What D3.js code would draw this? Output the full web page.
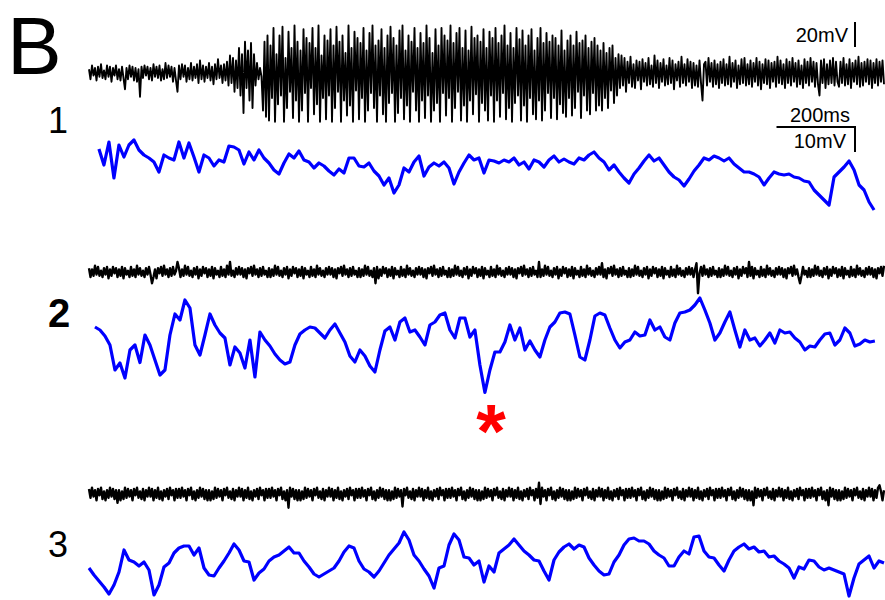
<!DOCTYPE html>
<html>
<head>
<meta charset="utf-8">
<script src="https://cdn.jsdelivr.net/npm/d3@7"></script>
<style>
  body { margin: 0; background: #fff; }
  svg { display: block; font-family: 'Liberation Sans', Arial, sans-serif; }
</style>
</head>
<body>
<div id="chart"></div>
<script>
// sweep length and scale bars
const durationMs = 2000;
const timeBarMs = 200;
const ecogBarMv = 20;
const vmBarMv = 10;
const panelLabels = ['1', '2', '3'];

// black traces (mV), 531 samples per sweep, 20 per line
const ecog1 = [
  3,-5,6,-2,4,-6,5,-3,7,-4,2,-5,6,-3,5,-7,4,-2,6,-5,
  3,-6,5,-4,-13,4,-5,6,-3,5,-6,4,-7,3,-19,5,-4,6,-2,5,
  -5,4,-6,7,-3,5,-4,6,-6,3,-5,8,-4,6,-3,5,-7,4,-6,-15,
  6,-5,7,-3,6,-7,4,-5,8,-6,5,-4,7,-8,10,-5,6,-7,5,-4,
  8,-6,5,-9,7,-5,11,-4,6,-8,7,-6,9,-10,14,-8,12,-15,10,-12,
  20,-18,15,-32,25,-12,18,-22,24,-28,15,-10,8,-5,4,-3,-30,25,-35,30,
  -38,22,-20,36,-39,15,-25,30,-18,37,-39,12,-28,33,-15,20,-36,38,-22,25,
  -39,18,-30,35,-16,28,-39,24,-12,36,-33,20,-25,38,-39,14,-20,30,-37,26,
  -18,35,-39,22,-28,37,-15,25,-39,30,-22,16,-34,38,-26,20,-39,33,-14,28,
  -37,24,-20,36,-39,18,-30,32,-16,38,-28,22,-39,26,-18,35,-33,20,-39,30,
  -24,37,-16,28,-39,22,-32,34,-20,38,-37,18,-26,30,-39,25,-15,36,-30,20,
  -39,32,-22,24,-36,38,-18,28,-39,16,-30,35,-24,22,-39,36,-16,30,-34,26,
  -20,38,-39,24,-28,32,-15,36,-38,20,-26,34,-39,18,-22,37,-33,28,-17,30,
  -39,25,-24,35,-30,20,-38,33,-18,28,-39,36,-22,24,-35,30,-16,38,-37,22,
  -28,32,-39,20,-24,36,-18,27,-38,34,-26,22,-39,30,-20,35,-33,18,-37,28,
  -22,36,-38,24,-30,32,-16,25,-36,30,-20,28,-37,22,-25,34,-32,18,-35,26,
  -20,30,-34,22,-28,33,-15,24,-36,26,-18,30,-30,20,-33,25,-16,28,-30,22,
  -26,18,-30,24,-20,16,-28,20,-14,22,-24,12,-18,15,-12,14,-10,12,-15,9,
  -8,13,-11,7,-12,10,-6,9,-13,11,-7,8,-10,12,-9,6,-11,14,-8,10,
  -12,8,-7,11,-10,6,-9,12,-8,10,-13,7,-6,9,-11,13,-8,7,-10,11,
  -7,9,-12,8,-10,6,-11,10,-8,-22,7,9,-10,12,-7,8,-11,10,-9,7,
  -12,9,-8,11,-10,7,-9,13,-11,8,-7,10,-12,6,-9,11,-8,12,-10,7,
  -9,10,-11,8,-7,12,-10,9,-13,7,-8,11,-9,10,-12,8,-7,9,-11,13,
  -8,10,-9,7,-12,11,-8,9,-10,12,-7,8,-11,10,-9,6,-12,11,-8,9,
  -10,12,-7,9,-11,8,-9,-18,10,-8,11,-12,7,-9,10,-8,12,-10,9,-7,
  -11,9,-8,12,-10,7,-9,11,-12,8,-7,10,-9,13,-11,8,-10,9,-7,11,
  -9,10,-12,8,-8,11,-10,9,-7,10,-9
];

const ecog2 = [
  3,-4,2,-3,5,-2,4,-3,1,-4,3,-2,4,-5,2,-3,4,-1,3,-4,
  2,-3,4,-5,3,-2,1,-4,4,-3,2,-4,5,-2,3,-3,1,-4,3,-2,
  4,-2,-9,-4,2,-5,3,-1,4,-3,5,-2,2,-4,3,-3,4,-2,1,8,
  3,-4,2,-3,5,-2,4,-3,1,-4,3,-2,4,-5,2,-3,4,-1,3,-4,
  2,-3,4,-5,3,-2,1,-4,4,-3,2,-4,5,-2,8,-3,1,-4,3,-2,
  4,-2,3,-4,2,-5,3,-1,4,-3,5,-2,2,-4,3,-3,4,-2,1,-4,
  3,-4,2,-3,5,-2,4,-3,1,-4,3,-2,4,-5,2,-3,4,-1,3,-4,
  2,-3,4,-5,3,-2,1,-4,4,-3,2,-4,5,-2,3,-3,1,-4,3,-2,
  4,-2,3,-4,2,-5,3,-1,4,-3,5,-2,2,-4,3,-3,4,-2,1,-4,
  3,-4,2,-3,5,-2,4,-3,1,-4,3,-9,4,-5,2,-3,4,-1,3,-4,
  2,-3,4,-5,3,-2,1,-4,4,-3,2,-4,5,-2,3,-3,1,-4,3,-2,
  4,-2,3,-4,2,-5,3,-1,4,-3,5,-2,2,-4,3,-3,4,-2,1,-4,
  3,-4,2,-3,5,-2,4,-3,1,-4,3,-2,4,-5,2,-3,4,-1,3,-4,
  2,-3,4,-5,3,-2,1,-4,4,-3,2,-4,5,-2,3,-3,1,-4,3,-2,
  4,-2,3,-4,2,-5,3,-1,4,-3,5,-2,2,-4,3,-3,4,-2,1,-4,
  8,-4,2,-3,5,-2,4,-3,1,-4,3,-2,4,-5,2,-3,4,-1,3,-4,
  2,-3,4,-5,3,-2,1,-4,4,-3,2,-4,5,-2,3,-3,1,-4,3,-2,
  4,-2,7,-4,2,-5,3,-1,4,-3,5,-2,2,-4,3,-3,4,-2,1,-4,
  3,-4,2,-3,5,-2,4,-3,1,-4,3,-2,4,-5,2,-3,4,-1,3,-4,
  2,-3,4,-5,3,-2,1,-4,4,-3,2,-4,5,-2,3,-3,1,-4,3,-2,
  4,-2,3,-4,2,7,-17,-1,4,-3,5,-2,2,-4,3,-3,4,-2,1,-4,
  3,-4,2,-3,5,-2,4,-3,1,-4,3,-2,4,-5,2,-3,4,-1,3,-4,
  8,-3,4,-5,3,-2,1,-4,4,-3,2,-4,5,-2,3,-3,1,-4,3,-2,
  4,-2,3,-4,2,-5,3,-1,4,-3,5,-2,2,-4,-9,-3,4,-2,1,-4,
  3,-4,2,-3,5,-2,4,-3,1,-4,3,-2,4,-5,2,-3,4,-1,3,-4,
  2,-3,4,-5,3,-2,1,-4,4,-3,2,-4,5,-2,3,-3,1,-4,3,-2,
  4,-2,3,-4,2,-5,3,-1,4,-3,5
];

const ecog3 = [
  4,-3,5,-2,3,-5,4,-1,5,-4,2,-5,3,-3,5,-2,4,-4,3,-7,
  3,-5,2,-4,5,-3,4,-2,3,-5,4,-1,5,-3,2,-4,4,-5,3,-2,
  5,-2,4,-5,3,-3,5,-4,2,-5,3,-2,4,-4,5,-1,3,-5,4,-3,
  4,-3,5,-2,3,-5,4,-1,5,-4,2,-5,3,-3,5,-2,4,-4,3,-5,
  3,-5,2,-4,5,-3,4,-2,3,-5,4,-1,5,-3,2,-4,4,-5,3,-2,
  5,-2,4,-5,3,-3,5,-4,2,-5,3,-2,4,-4,5,-1,3,-5,4,-3,
  4,-3,5,-2,3,-5,4,-1,5,-4,2,-5,3,-11,5,-2,4,-4,3,-5,
  3,-5,2,-4,5,-3,4,-2,3,-5,4,-1,5,-3,2,-4,4,-5,3,-2,
  5,-2,4,-5,3,-3,5,-4,2,-5,3,-2,4,-4,5,-1,3,-5,4,-3,
  4,-3,5,-2,3,-5,4,-1,5,-4,2,-5,3,-3,5,-2,4,-4,3,-5,
  3,-5,2,-4,5,-3,4,-2,3,-10,4,-1,5,-3,2,-4,4,-5,3,-2,
  5,-2,4,-5,3,-3,5,-4,2,-5,3,-2,4,-4,5,-1,3,-5,4,-3,
  4,-3,5,-2,3,-5,4,-1,5,-4,2,-5,3,-3,5,-2,4,-4,3,-5,
  3,-5,2,-4,5,-3,4,-2,3,-5,4,-1,5,-3,2,-4,4,-5,3,-2,
  5,-2,4,-5,3,-3,5,-4,2,-5,3,-2,4,-4,5,-1,3,-5,4,-3,
  9,-8,5,-2,3,-5,4,-1,5,-4,2,-5,3,-3,5,-2,4,-4,3,-5,
  3,-5,2,-4,5,-3,4,-2,3,-5,4,-1,5,-3,2,-4,4,-5,3,-2,
  5,-2,4,-5,3,-3,5,-4,2,-5,3,-2,4,-4,5,-1,3,-5,4,-3,
  4,-3,5,-2,3,-5,4,-1,5,-4,2,-5,3,-3,5,-2,4,-4,3,-5,
  3,-5,2,-4,5,-3,4,-2,3,-5,4,-1,5,-3,2,-4,4,-5,3,-2,
  5,-2,4,-5,3,-3,5,-4,2,-5,3,-2,4,-4,5,-1,3,-5,4,-3,
  4,-3,5,-2,3,-5,4,-1,5,-4,2,-5,3,-3,5,-2,4,-4,3,-5,
  3,-5,2,-9,5,-3,4,-2,3,-5,4,-1,5,-3,2,-4,4,-5,3,-2,
  5,-2,4,-5,3,-3,5,-4,2,-5,3,-2,4,-4,5,-1,3,-5,4,-3,
  4,-3,5,-2,3,-5,4,-1,5,-4,2,-5,3,-9,5,-2,4,-4,3,-5,
  3,-5,2,-4,5,-3,4,-2,3,-5,4,-1,5,-3,2,-4,4,-5,3,-2,
  5,-2,4,-5,3,-3,5,7,2,-5,3
];

// blue traces (mV from resting level)
const vm1 = [
  4.4,-2,7.2,-7.2,6,1.2,6,8,4,2,
  0.8,-0.8,-4.8,2,0.8,0,7.2,0.8,6.8,1.2,
  -4.8,2,0.8,-2.4,0,-0.8,5.6,5.2,4,-1.6,
  3.2,0,4,0.8,-1.2,-4,-5.6,-1.2,2.4,0.8,
  3.6,0,-0.8,-3.2,-1.2,-2.4,-4.4,-6,-3.6,-5.2,
  0.8,0.8,-2.4,-2.8,-1.2,-4.4,-6.4,-10,-7.2,-13.2,
  -10,-3.2,-4.8,-0.8,1.6,-6.4,-2.8,-1.2,-2.4,-0.8,
  -3.2,-9.6,-4.8,-1.2,2,0,0.8,-5.2,0,-0.4,
  -1.2,0,-0.8,0.8,-2,-0.8,-3.6,0,-0.8,-2.8,
  0,1.6,-0.8,0.4,-0.8,-1.6,0.8,0,2,3.2,
  0.8,-0.8,-4,-2,-4.8,-7.2,-9.2,-5.6,-3.2,-0.4,
  2,-0.4,0.8,-2,-4.8,-6.8,-8,-10.4,-7.6,-4.4,
  -2,0.8,0,1.6,0.8,-0.4,0.8,-1.6,-3.2,-4.8,
  -4.8,-5.6,-6.8,-10,-7.2,-4.8,-5.6,-6,-5.6,-6.8,
  -7.2,-8.4,-8.8,-12,-14,-16,-18,-6.8,-4.8,-2.8,
  -0.4,-4,-10,-12,-16.8,-20
];

const vm2 = [
  5.2,4,1.6,-2,-12,-9.2,-15.2,-4,-2,-9,
  2,-2,-8,-14,-12,2,10.4,8,16,12.8,
  -2,-6,2,10.4,6,2.8,0.8,-10,-2.8,-5.2,
  -11.2,0,-14.8,3.2,0,-2.4,-5.6,-8,-9.6,-8.8,
  -2,2.4,4,5.2,4.8,2.8,0.8,4,6.4,2.8,
  -0.8,-6.4,-8.8,-4,-6.4,-10.4,-12.8,-4,3.6,5.2,
  0,7.2,8.8,3.2,4,1.2,-2,6,7.2,10,
  10.8,4,0.8,8.8,8.8,1.2,4,-10,-21,-12,
  -4.8,-4.8,-0.8,6,0,4.8,-4,-0.4,-4,-6.8,
  0,5.2,7.2,10.8,11.2,10.4,2,-6.8,-8,0,
  9.6,10.8,10,4.8,0,-3.2,-0.8,0,3.2,1.6,
  2,8,4,5.2,1.2,0,6.8,10.8,11.2,12,
  14,16.8,12,6.8,0,2.8,7.2,11.2,4,-2.8,
  4,0,0.8,-2.4,0,2.8,-1.2,4,2.8,3.2,
  0.8,-0.8,-4,-2.4,-2.8,0,2.4,2.8,-2,0,
  4.8,2.8,-2.4,-1.6,0,-0.8,-0.4
];

const vm3 = [
  -3.2,-6,-8.4,-10.8,-13.6,-10,-4.8,4,0,-0.8,
  -2.4,-0.8,-4,-14,-10,-2.8,-1.2,2.8,4.8,5.6,
  5.6,2,4.8,-3.2,-6,-6.4,-3.2,-0.4,2.8,6.4,
  4,-0.4,-0.8,-8,-5.2,-3.6,-0.4,1.2,2,3.6,
  5.2,2.8,2.8,-0.4,-2.8,-5.6,-6.8,-5.6,-4.4,-3.2,
  -0.4,3.2,5.6,4.8,-0.4,-3.6,-4.8,-6.8,-4.4,-1.2,
  2,4.4,6.8,11.2,8,2,-0.4,-3.6,-6.4,-11.2,
  -3.2,-2.4,6,10.4,8,1.2,0.8,-2,-0.4,-8.8,
  -2.4,-4.8,2.8,4.4,6,8.4,6,3.6,2,0,
  -0.4,-4.4,-8,0,3.2,5.2,6.4,4.4,6,5.2,
  0.8,-2,-4.4,-6,-5.6,-0.8,2,6,8.4,8.8,
  7.6,7.6,6.4,3.6,2,0.8,-2.4,-2.4,1.2,3.6,
  2.4,9.2,9.6,3.6,1.2,0.8,-2,-4.4,0,3.6,
  5.2,6.4,4.4,5.2,3.2,3.6,1.2,1.6,-0.4,-1.6,
  -3.2,-7.2,-2.8,-3.6,0,-0.4,-2.8,-4,-3.2,-4,
  -4.8,-5.6,-14.4,-7.2,-1.6,0,1.6,-3.2,-0.4,-1.2
];

const width = 885;
const height = 600;

const svg = d3.select('#chart')
  .append('svg')
    .attr('width', width)
    .attr('height', height);

const x = d3.scaleLinear()
  .domain([0, durationMs])
  .range([89, 884]);

// ecog: 20 mV = 25 px, vm: 10 mV = 25 px
const ecogScale = (mid) => d3.scaleLinear().domain([-40, 40]).range([mid + 50, mid - 50]);
const vmScale = (mid) => d3.scaleLinear().domain([-20, 20]).range([mid + 50, mid - 50]);

const traces = [
  { data: ecog1, t: [0, 2000], y: ecogScale(73), color: '#000', w: 1.9 },
  { data: vm1, t: [25, 1975], y: vmScale(160), color: '#0000ff', w: 3.2 },
  { data: ecog2, t: [0, 2000], y: ecogScale(272), color: '#000', w: 2.4 },
  { data: vm2, t: [15, 1977], y: vmScale(340), color: '#0000ff', w: 3.2 },
  { data: ecog3, t: [0, 2000], y: ecogScale(494), color: '#000', w: 2.4 },
  { data: vm3, t: [0, 2000], y: vmScale(560), color: '#0000ff', w: 3.2 }
];

for (const tr of traces) {
  const n = tr.data.length;
  const dt = (tr.t[1] - tr.t[0]) / (n - 1);
  svg.append('path')
    .datum(tr.data)
    .attr('fill', 'none')
    .attr('stroke', tr.color)
    .attr('stroke-width', tr.w)
    .attr('stroke-linejoin', 'round')
    .attr('d', d3.line()
      .x((d, i) => x(tr.t[0] + i * dt))
      .y(d => tr.y(d)));
}

// big panel letter and row numbers
svg.append('text')
  .attr('x', 7).attr('y', 74)
  .attr('font-size', 82)
  .text('B');

const labelY = [133, 327, 557];
panelLabels.forEach((l, i) => {
  svg.append('text')
    .attr('x', 48).attr('y', labelY[i])
    .attr('font-size', i === 1 ? 40 : 36)
    .attr('font-weight', i === 1 ? 'bold' : 'normal')
    .text(l);
});

// scale bars
const yE = traces[0].y;
const yV = traces[1].y;
const ecogLen = yE(0) - yE(ecogBarMv);
const vmLen = yV(0) - yV(vmBarMv);
const timeLen = x(timeBarMs) - x(0);

svg.append('line')
  .attr('x1', 855).attr('x2', 855)
  .attr('y1', 22).attr('y2', 22 + ecogLen)
  .attr('stroke', '#000').attr('stroke-width', 2);
svg.append('text')
  .attr('x', 848).attr('y', 42)
  .attr('font-size', 20)
  .attr('text-anchor', 'end')
  .text(ecogBarMv + 'mV');

svg.append('line')
  .attr('x1', 856 - timeLen).attr('x2', 856)
  .attr('y1', 127).attr('y2', 127)
  .attr('stroke', '#000').attr('stroke-width', 2);
svg.append('line')
  .attr('x1', 855).attr('x2', 855)
  .attr('y1', 127).attr('y2', 127 + vmLen)
  .attr('stroke', '#000').attr('stroke-width', 2);
svg.append('text')
  .attr('x', 820).attr('y', 122)
  .attr('font-size', 20)
  .attr('text-anchor', 'middle')
  .text(timeBarMs + 'ms');
svg.append('text')
  .attr('x', 846).attr('y', 148)
  .attr('font-size', 20)
  .attr('text-anchor', 'end')
  .text(vmBarMv + 'mV');

// marker under trace 2
svg.append('text')
  .attr('x', 491).attr('y', 457)
  .attr('font-size', 76)
  .attr('font-weight', 'bold')
  .attr('fill', '#ff0000')
  .attr('text-anchor', 'middle')
  .text('*');
</script>
</body>
</html>
